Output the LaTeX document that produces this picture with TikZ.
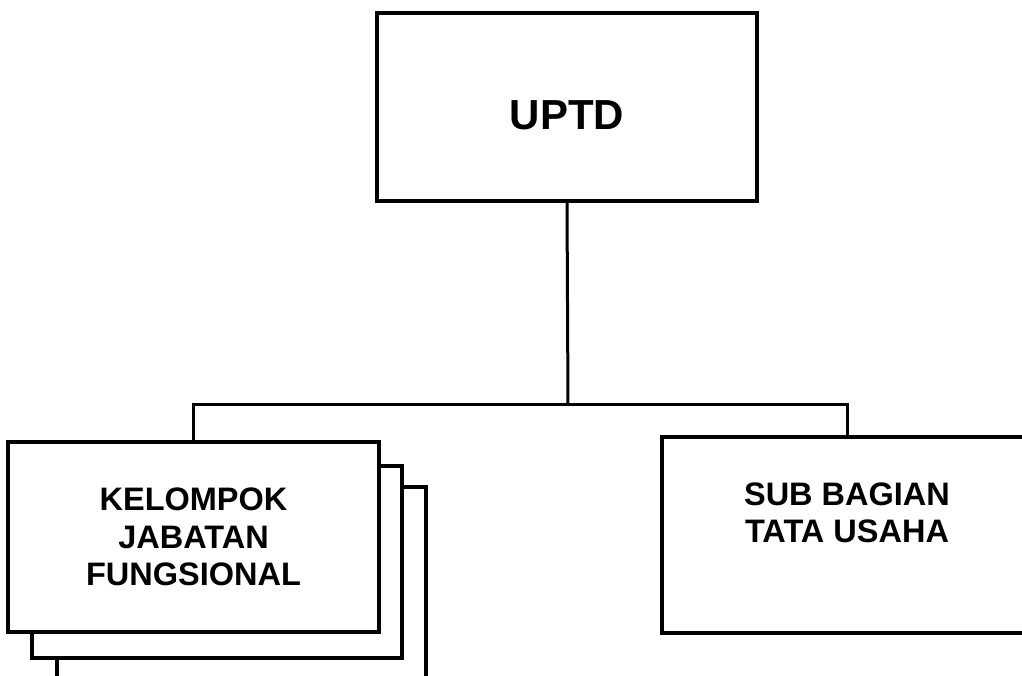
\documentclass[tikz,border=0pt]{standalone}
\usepackage{fontspec}
\setmainfont{Liberation Sans}
\begin{document}
\begin{tikzpicture}[x=1pt,y=1pt,
  box/.style={draw=black,line width=3.6pt,fill=white,inner sep=0pt},
  conn/.style={draw=black,line width=3pt},
  lbl/.style={font=\bfseries\fontsize{32.5}{37.5}\selectfont,align=center,inner sep=0pt}]
\useasboundingbox (0,0) rectangle (1022,675);
\clip (0,0) rectangle (1022,675);
% top box
\node[box,minimum width=380pt,minimum height=188pt] (uptd) at (567,568) {};
\node[font=\bfseries\fontsize{42}{48}\selectfont,inner sep=0pt] (uptdt) at (567,560) {UPTD};
% stacked boxes
\node[box,minimum width=369pt,minimum height=210pt] (kel3) at (241.5,83) {};
\node[box,minimum width=370pt,minimum height=192pt] (kel2) at (217,113) {};
\node[box,minimum width=371pt,minimum height=190pt,lbl] (kel) at (193.5,138) {KELOMPOK\\JABATAN\\FUNGSIONAL};
% right box
\node[box,minimum width=370pt,minimum height=196pt] (sub) at (847,140) {};
\node[lbl] (subt) at (847,162) {SUB BAGIAN\\TATA USAHA};
% connectors
\coordinate (bus) at (568,270);
\draw[conn] (uptd.south) -- (bus);
\draw[conn] (kel.north) |- (bus) -| (sub.north);
\end{tikzpicture}
\end{document}
